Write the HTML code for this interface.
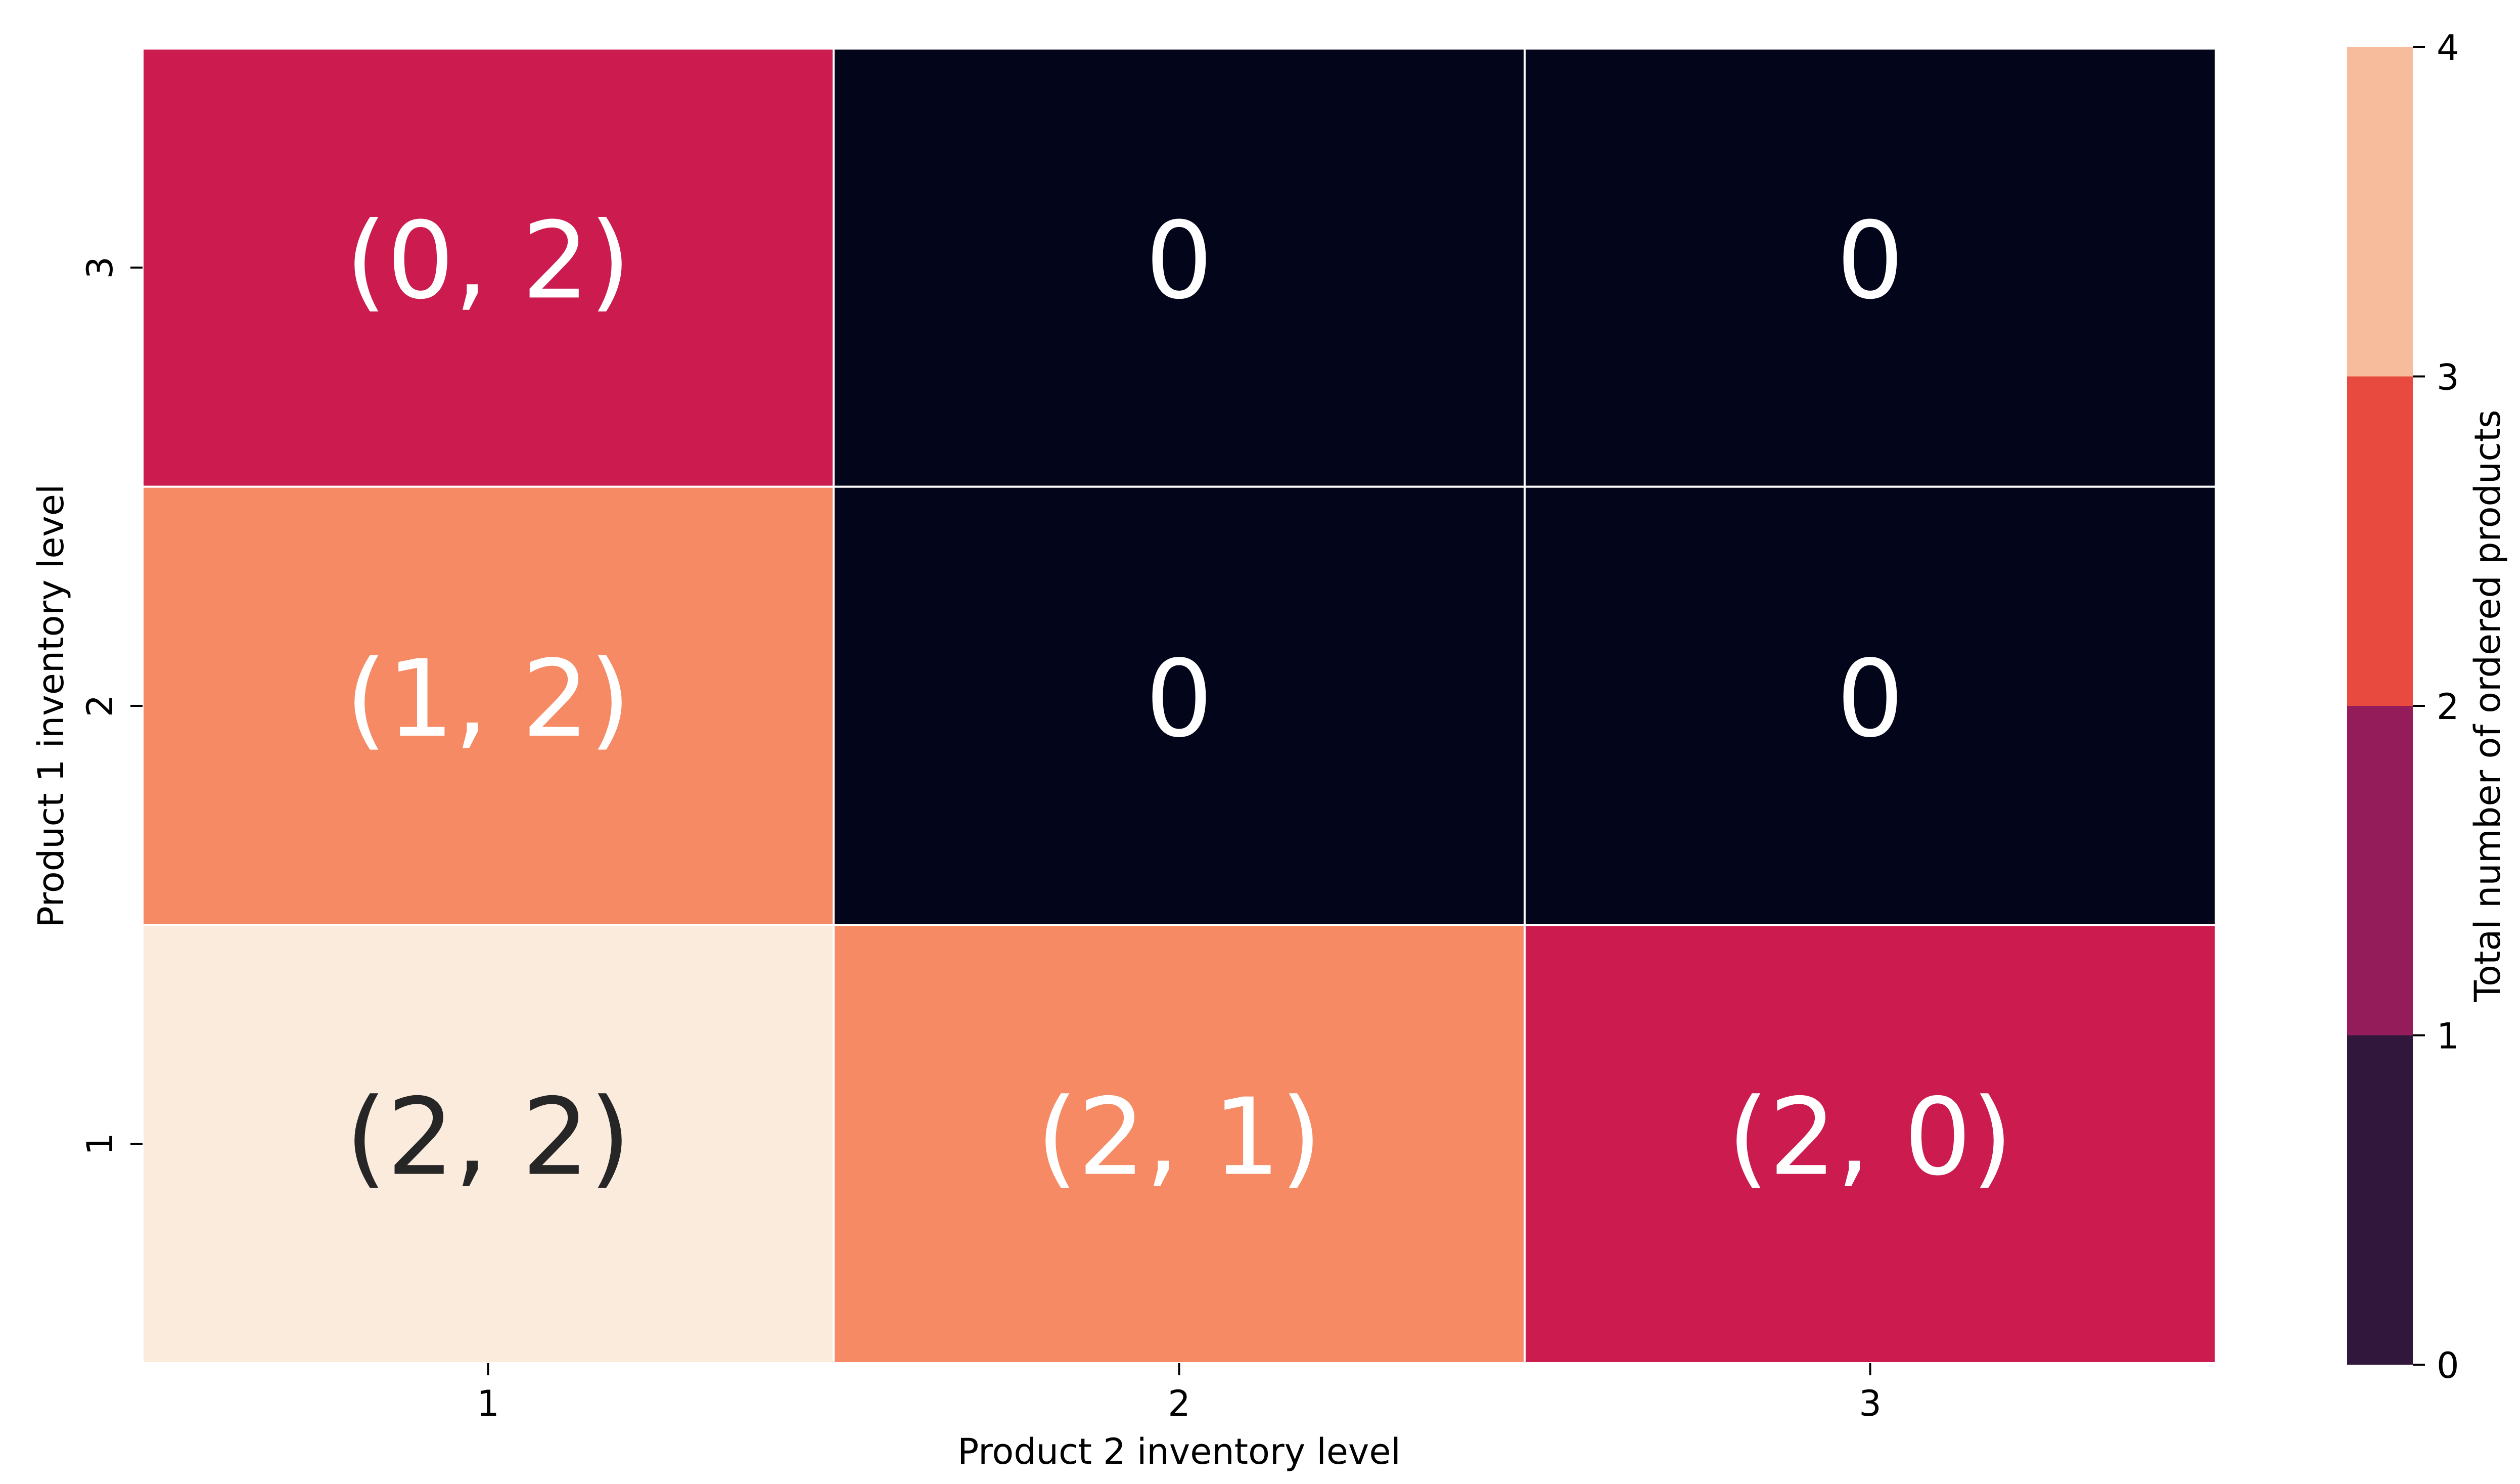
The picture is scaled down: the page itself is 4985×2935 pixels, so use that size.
<!DOCTYPE html>
<html><head><meta charset="utf-8"><style>
html,body{margin:0;padding:0;background:#fff;}
svg{display:block;font-family:"DejaVu Sans","Liberation Sans",sans-serif;}
</style></head><body>
<svg id="chart" width="4985" height="2935" viewBox="0 0 4985 2935" xmlns="http://www.w3.org/2000/svg">
<g id="cells"></g>
<g id="axes"></g>
<g id="cbar"></g>
</svg>
<script>
const xCategories = ["1","2","3"];
const yCategories = ["3","2","1"]; // top to bottom
const cellValues = [[2,0,0],[3,0,0],[4,3,2]];
const cellLabels = [["(0, 2)","0","0"],["(1, 2)","0","0"],["(2, 2)","(2, 1)","(2, 0)"]];
const cbarTicks = [0,1,2,3,4];
const cellColors = {0:"#03051a",2:"#cb1b4f",3:"#f58a64",4:"#faebdd"};
const bandColors = ["#31173c","#951c5b","#e94a40","#f6bc9b"];

const NS="http://www.w3.org/2000/svg";
const L=282,R=4383,T=96,B=2696;
const cw=(R-L)/xCategories.length, ch=(B-T)/yCategories.length;
const xPos=i=>L+cw*(i+0.5), yPos=j=>T+ch*(j+0.5);
function mk(tag,attrs,parent){const e=document.createElementNS(NS,tag);for(const k in attrs)e.setAttribute(k,attrs[k]);parent.appendChild(e);return e;}
const cells=document.getElementById('cells'), axes=document.getElementById('axes'), cb=document.getElementById('cbar');

cellValues.forEach((row,j)=>row.forEach((v,i)=>{
  const r=mk('rect',{x:L+cw*i,y:T+ch*j,width:cw,height:ch,fill:cellColors[v]||"#03051a",stroke:"#fff","stroke-width":4},cells);
  
  
  const t=mk('text',{x:xPos(i),y:yPos(j)+59,"text-anchor":"middle","font-size":210,fill:v>=4?"#262626":"#ffffff"},cells);
  t.textContent=cellLabels[j][i];
  
  
}));

xCategories.forEach((c,i)=>{
  const l=mk('line',{x1:xPos(i),x2:xPos(i),y1:B,y2:B+24,stroke:"#000","stroke-width":4},axes);
  
  
  const t=mk('text',{x:xPos(i),y:2800,"text-anchor":"middle","font-size":70,fill:"#000"},axes);
  t.textContent=c;
  
  
});
yCategories.forEach((c,j)=>{
  const l=mk('line',{x1:L-24,x2:L,y1:yPos(j),y2:yPos(j),stroke:"#000","stroke-width":4},axes);
  
  
  const t=mk('text',{x:0,y:0,"text-anchor":"middle","font-size":70,fill:"#000",transform:`translate(222,${yPos(j)}) rotate(-90)`},axes);
  t.textContent=c;
  
  
});
let xt=mk('text',{x:(L+R)/2,y:2895,"text-anchor":"middle","font-size":70,fill:"#000"},axes);
xt.textContent="Product 2 inventory level";


let yt=mk('text',{x:0,y:0,"text-anchor":"middle","font-size":70,fill:"#000",transform:`translate(125,${(T+B)/2}) rotate(-90)`},axes);
yt.textContent="Product 1 inventory level";



const CL=4643,CR=4773,CT=93,CB=2699;
const cy=v=>CB-(v-cbarTicks[0])/(cbarTicks[cbarTicks.length-1]-cbarTicks[0])*(CB-CT);
bandColors.forEach((c,k)=>{
  const r=mk('rect',{x:CL,y:cy(k+1),width:CR-CL,height:cy(k)-cy(k+1),fill:c},cb);
  
  
});
cbarTicks.forEach(v=>{
  const l=mk('line',{x1:CR,x2:CR+24,y1:cy(v),y2:cy(v),stroke:"#000","stroke-width":4},cb);
  
  
  const t=mk('text',{x:4820,y:cy(v)+26,"font-size":70,fill:"#000"},cb);
  t.textContent=v;
  
  
});
let ct=mk('text',{x:0,y:0,"text-anchor":"middle","font-size":70,fill:"#000",transform:`translate(4945,${(CT+CB)/2}) rotate(-90)`},cb);
ct.textContent="Total number of ordered products";


</script>
</body></html>
